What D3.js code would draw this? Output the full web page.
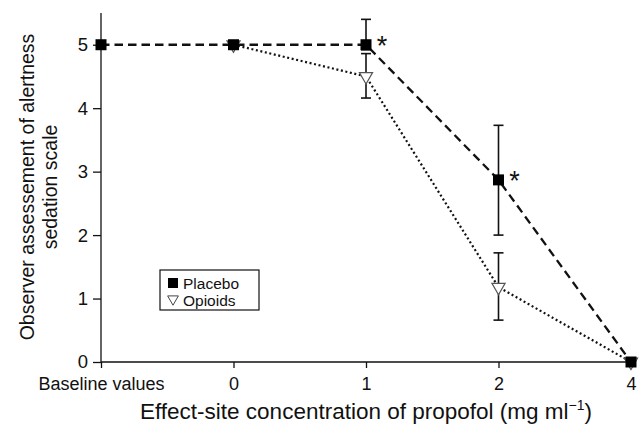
<!DOCTYPE html>
<html>
<head>
<meta charset="utf-8">
<script src="https://cdn.jsdelivr.net/npm/d3@7/dist/d3.min.js"></script>
<style>
body{margin:0;background:#fff;}
text{font-family:"Liberation Sans",Arial,Helvetica,sans-serif;fill:#111;}
</style>
</head>
<body>
<svg id="c" width="643" height="431"></svg>
<script>
const categories = ["Baseline values", "0", "1", "2", "4"];
const placeboMean = [5, 5, 5, 2.87, 0];
const placeboLo   = [null, null, 4.92, 2.0, null];
const placeboHi   = [null, null, 5.4, 3.73, null];
const opioidMean  = [null, 5, 4.5, 1.18, 0];
const opioidLo    = [null, null, 4.16, 0.66, null];
const opioidHi    = [null, null, 4.86, 1.72, null];
const significant = [false, false, true, true, false];
const yTicks = [0, 1, 2, 3, 4, 5];

const svg = d3.select("#c");
const x = d3.scalePoint().domain(categories).range([101, 631]);
const y = d3.scaleLinear().domain([0, 5.5]).range([362, 13]);

// axes
const yAxis = svg.append("g").attr("transform", "translate(101,0)")
  .call(d3.axisLeft(y).tickValues(yTicks).tickSize(8).tickPadding(5).tickFormat(d3.format("d")));
yAxis.attr("font-family", null).attr("font-size", null);
yAxis.select(".domain").attr("d", `M0,${y(5.5)}V${y(0)}`).attr("stroke", "#111").attr("stroke-width", 1.3);
yAxis.selectAll(".tick line").attr("stroke", "#111").attr("stroke-width", 1.3);
yAxis.selectAll("text").style("font-size", "18.5px").attr("fill", "#111");

const xAxis = svg.append("g").attr("transform", `translate(0,${y(0)})`)
  .call(d3.axisBottom(x).tickSize(6).tickPadding(9));
xAxis.attr("font-family", null).attr("font-size", null);
xAxis.select(".domain").attr("d", `M${x(categories[0])},0H${x(categories[4])+1}`).attr("stroke", "#111").attr("stroke-width", 1.3);
xAxis.selectAll(".tick line").attr("stroke", "#111").attr("stroke-width", 1.3);
xAxis.selectAll("text").style("font-size", "18px").attr("fill", "#111");

// axis titles
const xt = svg.append("text").attr("x", 366).attr("y", 419).attr("text-anchor", "middle").style("font-size", "22.5px");
xt.append("tspan").text("Effect-site concentration of propofol (mg ml");
xt.append("tspan").attr("dy", -9).style("font-size", "14px").text("\u22121");
xt.append("tspan").attr("dy", 9).text(")");

const yt = svg.append("text").attr("transform", "translate(34,187) rotate(-90)").attr("text-anchor", "middle").style("font-size", "19.5px");
yt.append("tspan").attr("x", 0).attr("dy", 0).text("Observer assessement of alertness");
yt.append("tspan").attr("x", 0).attr("dy", 23).text("sedation scale");

// lines
const idx = d3.range(categories.length);
const line = (arr) => d3.line().defined(i => arr[i] != null).x(i => x(categories[i])).y(i => y(arr[i]))(idx);

svg.append("path").attr("d", line(opioidMean)).attr("fill", "none").attr("stroke", "#111")
  .attr("stroke-width", 2.2).attr("stroke-dasharray", "2,2.6");
svg.append("path").attr("d", line(placeboMean)).attr("fill", "none").attr("stroke", "#111")
  .attr("stroke-width", 2.3).attr("stroke-dasharray", "8.5,5");

// error bars
function errBars(lo, hi) {
  const g = svg.append("g").attr("stroke", "#111").attr("stroke-width", 1.6);
  idx.filter(i => lo[i] != null).forEach(i => {
    const cx = x(categories[i]);
    g.append("line").attr("x1", cx).attr("x2", cx).attr("y1", y(lo[i])).attr("y2", y(hi[i]));
    g.append("line").attr("x1", cx - 5).attr("x2", cx + 5).attr("y1", y(lo[i])).attr("y2", y(lo[i]));
    g.append("line").attr("x1", cx - 5).attr("x2", cx + 5).attr("y1", y(hi[i])).attr("y2", y(hi[i]));
  });
}
errBars(opioidLo, opioidHi);
errBars(placeboLo, placeboHi);

// markers
const tri = d3.symbol().type(d3.symbolTriangle).size(75);
svg.append("g").selectAll("path").data(idx.filter(i => opioidMean[i] != null)).join("path")
  .attr("d", tri)
  .attr("transform", i => `translate(${x(categories[i])},${y(opioidMean[i])}) rotate(180)`)
  .attr("fill", "#fff").attr("stroke", "#555").attr("stroke-width", 1.2);

svg.append("g").selectAll("rect").data(idx).join("rect")
  .attr("x", i => x(categories[i]) - 5.5).attr("y", i => y(placeboMean[i]) - 5.5)
  .attr("width", 11).attr("height", 11).attr("fill", "#000");

// significance asterisks
svg.append("g").selectAll("text").data(idx.filter(i => significant[i])).join("text")
  .attr("x", i => x(categories[i]) + 16).attr("y", i => y(placeboMean[i]) + 10)
  .attr("text-anchor", "middle").style("font-size", "27px").text("*");

// legend
const lg = svg.append("g").attr("transform", "translate(160,270)");
lg.append("rect").attr("width", 99).attr("height", 40).attr("fill", "#fff").attr("stroke", "#111").attr("stroke-width", 1.2);
lg.append("rect").attr("x", 8).attr("y", 8).attr("width", 10).attr("height", 10).attr("fill", "#000");
lg.append("path").attr("d", d3.symbol().type(d3.symbolTriangle).size(50))
  .attr("transform", "translate(13,29) rotate(180)").attr("fill", "#fff").attr("stroke", "#444").attr("stroke-width", 1);
lg.append("text").attr("x", 23).attr("y", 18.5).style("font-size", "15.5px").text("Placebo");
lg.append("text").attr("x", 23).attr("y", 36).style("font-size", "15.5px").text("Opioids");
</script>
</body>
</html>
